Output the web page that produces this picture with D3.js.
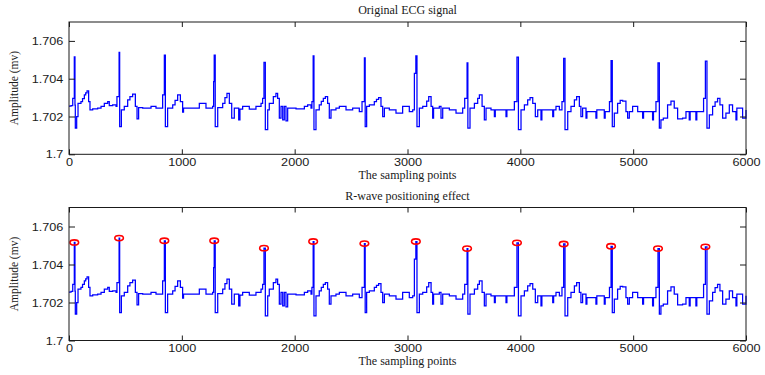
<!DOCTYPE html>
<html>
<head>
<meta charset="utf-8">
<script src="https://cdn.jsdelivr.net/npm/d3@7"></script>
<style>
  body { margin: 0; background: #fff; }
  svg { display: block; }
</style>
</head>
<body>
<div id="chart"></div>
<script>
// ECG trace: [sampling point, amplitude (mv)]
const ecgTrace = [
  [0,1.70255],[18,1.70258],[33,1.70296],[41,1.70296],[47,1.70516],[53,1.7026],[56,1.70139],[68,1.702],
  [80,1.7027],[106,1.70279],[120,1.70295],[136,1.70314],[148,1.70325],[160,1.70335],[174,1.70279],
  [186,1.70235],[210,1.7024],
  [254,1.70244],[284,1.70253],[313,1.7027],[343,1.70279],[357,1.70258],[387,1.70261],[417,1.70253],
  [425,1.70305],[444,1.70539],[449,1.70147],[464,1.70235],[490,1.70253],[520,1.70288],[540,1.70305],
  [564,1.70318],
  [588,1.70253],[603,1.70188],[617,1.70247],[653,1.70244],[727,1.70253],[771,1.70244],[815,1.70244],
  [830,1.70314],[845,1.70525],[854,1.70147],[874,1.70244],[919,1.70261],[940,1.70285],[963,1.70314],
  [987,1.70279],
  [1007,1.70223],[1015,1.70244],[1037,1.70244],[1096,1.70244],[1155,1.7027],[1214,1.70244],[1273,1.70253],
  [1282,1.70384],[1287,1.70525],[1296,1.70147],[1318,1.70247],[1362,1.7027],[1382,1.703],[1400,1.70323],
  [1421,1.7027],[1442,1.70191],[1465,1.70244],[1480,1.70244],[1504,1.70182],[1515,1.70239],
  [1539,1.70253],[1598,1.70239],[1657,1.70253],[1702,1.7027],[1716,1.70296],[1728,1.70486],
  [1740,1.7013],[1761,1.70235],[1775,1.7027],[1811,1.70305],[1834,1.70323],[1849,1.70296],
  [1864,1.70191],[1879,1.70253],[1894,1.70182],[1908,1.70253],[1923,1.70177],[1938,1.70244],
  [2012,1.7024],[2086,1.70253],[2115,1.70261],[2145,1.70244],[2153,1.70279],[2164,1.70521],
  [2171,1.7013],[2189,1.70235],[2218,1.70261],[2236,1.7028],[2254,1.70296],[2272,1.70305],[2292,1.7027],
  [2307,1.70191],[2322,1.70235],[2366,1.70244],[2396,1.70253],[2455,1.70235],[2514,1.70244],
  [2573,1.70226],[2597,1.70279],[2618,1.7051],[2625,1.70147],[2638,1.70253],[2662,1.70261],
  [2706,1.70279],[2725,1.7029],[2744,1.703],[2765,1.70253],[2780,1.702],[2795,1.70244],[2839,1.70235],
  [2898,1.70218],[2957,1.70253],[3016,1.70226],[3046,1.70235],[3061,1.70428],[3074,1.70521],
  [3084,1.70147],[3105,1.70244],[3135,1.70253],[3170,1.70282],[3188,1.70305],[3209,1.70253],
  [3223,1.70191],[3231,1.70244],[3253,1.70244],[3282,1.70253],[3297,1.70191],[3312,1.70244],[3371,1.70235],
  [3430,1.70218],[3489,1.70244],[3507,1.70296],[3528,1.70484],[3535,1.70139],[3554,1.70244],
  [3593,1.7027],[3622,1.70296],[3637,1.70314],[3661,1.70253],[3681,1.70182],[3696,1.70244],
  [3740,1.70235],[3770,1.702],[3778,1.70235],[3799,1.70235],[3873,1.702],[3881,1.70235],[3903,1.70235],
  [3947,1.70279],
  [3970,1.70514],[3983,1.7013],[4006,1.70235],[4036,1.70261],[4065,1.70288],[4086,1.703],
  [4110,1.7027],[4133,1.702],[4154,1.70235],[4183,1.70182],[4191,1.70235],[4213,1.70235],[4287,1.702],
  [4295,1.70235],
  [4316,1.70253],[4346,1.70235],[4369,1.70279],[4384,1.70508],[4396,1.7013],[4420,1.70226],
  [4449,1.70253],[4479,1.70288],[4499,1.70305],[4523,1.70253],[4537,1.702],[4552,1.70244],
  [4582,1.70191],[4590,1.70226],[4611,1.70226],[4670,1.70191],[4678,1.70235],[4700,1.70235],
  [4744,1.70191],[4752,1.70226],[4774,1.70226],
  [4790,1.70279],[4804,1.70496],[4815,1.70147],[4833,1.70218],[4862,1.7027],[4885,1.70285],[4907,1.70282],
  [4936,1.70226],[4951,1.70191],[4966,1.70226],[4995,1.70253],[5040,1.70226],[5084,1.70191],
  [5092,1.70226],
  [5113,1.70226],[5172,1.70182],[5180,1.70226],[5202,1.70279],[5220,1.70484],[5232,1.70139],[5246,1.70182],
  [5267,1.70191],[5305,1.70261],[5335,1.70282],[5364,1.70244],[5394,1.70188],[5438,1.70191],
  [5468,1.70226],[5497,1.70182],[5505,1.70226],[5527,1.70226],[5556,1.70182],[5564,1.70226],
  [5601,1.70226],[5624,1.70296],
  [5640,1.70493],[5654,1.70139],[5675,1.70209],[5704,1.70253],[5726,1.70278],[5748,1.70296],[5769,1.70261],
  [5793,1.70191],[5822,1.70218],[5852,1.70261],[5881,1.70226],[5911,1.70182],[5919,1.70244],
  [5940,1.70244],
  [5970,1.70191],[6000,1.70235]
];

// detected R peaks (red circles in the second panel)
const rSamples = [47, 444, 845, 1287, 1728, 2164, 2618, 3074, 3528, 3970, 4384, 4804, 5220, 5640];
const rAmps = [1.70516, 1.70539, 1.70525, 1.70525, 1.70486, 1.70521, 1.7051, 1.70521, 1.70484,
  1.70514, 1.70508, 1.70496, 1.70484, 1.70493];

const xTicks = [0, 1000, 2000, 3000, 4000, 5000, 6000];
const yTicks = [1.7, 1.702, 1.704, 1.706];
const panelTitles = ["Original ECG signal", "R-wave positioning effect"];
const xLabel = "The sampling points";
const yLabel = "Amplitude (mv)";

const width = 765, height = 375;
const left = 69, right = 746;
const panelBox = [{ top: 22, bottom: 154.3 }, { top: 207.5, bottom: 340.5 }];

const svg = d3.select("#chart").append("svg")
  .attr("width", width)
  .attr("height", height);

const x = d3.scaleLinear().domain([0, 6000]).range([left, right]);

const sans = "'Liberation Sans', Arial, sans-serif";
const serif = "'Liberation Serif', 'Times New Roman', serif";
const ink = "#1a1a1a";

function styleAxis(g) {
  g.select(".domain").remove();
  g.selectAll(".tick line").attr("stroke", ink);
  g.selectAll(".tick text")
    .attr("fill", ink)
    .attr("font-family", sans)
    .attr("font-size", "11px");
}

panelBox.forEach((box, i) => {
  const y = d3.scaleLinear().domain([1.7, 1.707]).range([box.bottom, box.top]);
  const g = svg.append("g");

  // signal (sampled, so drawn as steps)
  const line = d3.line()
    .x(d => x(d[0]))
    .y(d => y(d[1]))
    .curve(d3.curveStepAfter);

  g.append("path")
    .datum(ecgTrace)
    .attr("d", line)
    .attr("fill", "none")
    .attr("stroke", "#0000ff")
    .attr("stroke-width", 1.25);

  // R peak markers
  if (i === 1) {
    g.selectAll("ellipse")
      .data(rSamples.map((s, k) => [s, rAmps[k]]))
      .join("ellipse")
      .attr("cx", d => x(d[0]))
      .attr("cy", d => y(d[1]))
      .attr("rx", 4.3)
      .attr("ry", 2.6)
      .attr("fill", "none")
      .attr("stroke", "#ff0000")
      .attr("stroke-width", 1.6);
  }

  // axes, ticks pointing inward on all four sides
  const xb = g.append("g")
    .attr("transform", `translate(0,${box.bottom})`)
    .call(d3.axisBottom(x).tickValues(xTicks).tickSizeInner(-5).tickSizeOuter(0).tickPadding(4)
      .tickFormat(d3.format("d")));
  styleAxis(xb);
  xb.selectAll(".tick text").attr("transform", "scale(1.15,1)");

  const xt = g.append("g")
    .attr("transform", `translate(0,${box.top})`)
    .call(d3.axisTop(x).tickValues(xTicks).tickSizeInner(-5).tickSizeOuter(0).tickFormat(""));
  styleAxis(xt);

  const yl = g.append("g")
    .attr("transform", `translate(${left},0)`)
    .call(d3.axisLeft(y).tickValues(yTicks).tickSizeInner(-6).tickSizeOuter(0).tickPadding(5)
      .tickFormat(d => String(+d.toFixed(3))));
  styleAxis(yl);
  yl.selectAll(".tick text").attr("transform", "scale(1.15,1)");

  const yr = g.append("g")
    .attr("transform", `translate(${right},0)`)
    .call(d3.axisRight(y).tickValues(yTicks).tickSizeInner(-6).tickSizeOuter(0).tickFormat(""));
  styleAxis(yr);

  g.append("rect")
    .attr("x", left)
    .attr("y", box.top)
    .attr("width", right - left)
    .attr("height", box.bottom - box.top)
    .attr("fill", "none")
    .attr("stroke", ink)
    .attr("stroke-width", 1);

  // title and labels
  g.append("text")
    .attr("x", (left + right) / 2)
    .attr("y", box.top - 8)
    .attr("text-anchor", "middle")
    .attr("font-family", serif)
    .attr("font-size", "12px")
    .attr("fill", ink)
    .text(panelTitles[i]);

  g.append("text")
    .attr("x", (left + right) / 2)
    .attr("y", box.bottom + 24.5)
    .attr("text-anchor", "middle")
    .attr("font-family", serif)
    .attr("font-size", "12px")
    .attr("fill", ink)
    .text(xLabel);

  g.append("text")
    .attr("transform", `translate(18,${(box.top + box.bottom) / 2}) rotate(-90)`)
    .attr("text-anchor", "middle")
    .attr("font-family", serif)
    .attr("font-size", "11.5px")
    .attr("fill", ink)
    .text(yLabel);
});
</script>
</body>
</html>
